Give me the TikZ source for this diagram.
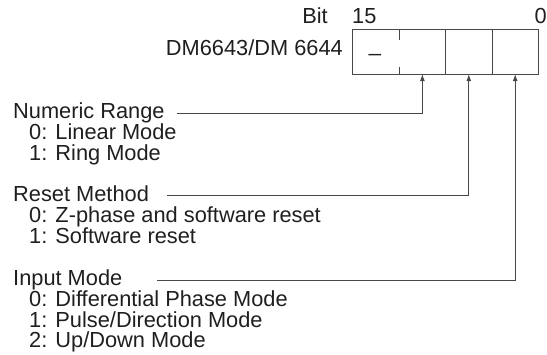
\documentclass[tikz,border=0pt]{standalone}
\usepackage{fontspec}
\setmainfont{Liberation Sans}
\usetikzlibrary{arrows.meta,positioning}

\begin{document}
\begin{tikzpicture}[x=1pt, y=-1pt,
	every node/.style={font=\fontsize{21.8}{21.8}\selectfont, text=black!88, inner sep=0pt},
	cell/.style={minimum width=46pt, minimum height=44pt},
	wire/.style={draw=black!72, line width=0.8pt},
	opt/.style={anchor=base west}]
	\useasboundingbox (0,0) rectangle (547,355);
	% register
	\node[cell] (c1) at (376,52) {};
	\node[cell, right=0pt of c1] (c2) {};
	\node[cell, right=0pt of c2] (c3) {};
	\node[cell, right=0pt of c3] (c4) {};
	\draw[wire] (c1.north west) rectangle (c4.south east);
	\draw[wire] (c1.north east) -- ++(0,10);
	\draw[wire] (c1.south east) -- ++(0,-7);
	\draw[wire] (c2.north east) -- (c2.south east);
	\draw[wire] (c3.north east) -- (c3.south east);
	\node[anchor=base] (ul) at (375,52) {\_};
	\node[anchor=base east] (reg) at (343,56) {DM6643/DM 6644};
	\node[anchor=base east] (bit) at (328,24) {Bit};
	\node[anchor=base west] (b15) at (352,24) {15};
	\node[anchor=base east] (b0) at (547,24) {0};
	% settings
	\node[opt] (nr) at (13,119) {Numeric Range};
	\foreach \txt [count=\k] in {0: Linear Mode, 1: Ring Mode}
		\node[opt] (nr\k) at (29,{119+20.6*\k}) {\txt};
	\node[opt] (rm) at (13,202) {Reset Method};
	\foreach \txt [count=\k] in {0: Z-phase and software reset, 1: Software reset}
		\node[opt] (rm\k) at (29,{202+20.6*\k}) {\txt};
	\node[opt] (im) at (13,286) {Input Mode};
	\foreach \txt [count=\k] in {0: Differential Phase Mode, 1: Pulse/Direction Mode, 2: Up/Down Mode}
		\node[opt] (im\k) at (29,{286+20.6*\k}) {\txt};
	% connectors
	\coordinate (nrs) at (177,113);
	\coordinate (rms) at (167,195);
	\coordinate (ims) at (157,280);
	\draw[wire, -{Latex[length=7pt,width=5pt]}] (nrs) -| (c2.south);
	\draw[wire, -{Latex[length=7pt,width=5pt]}] (rms) -| (c3.south);
	\draw[wire, -{Latex[length=7pt,width=5pt]}] (ims) -| (c4.south);
\end{tikzpicture}
\end{document}
